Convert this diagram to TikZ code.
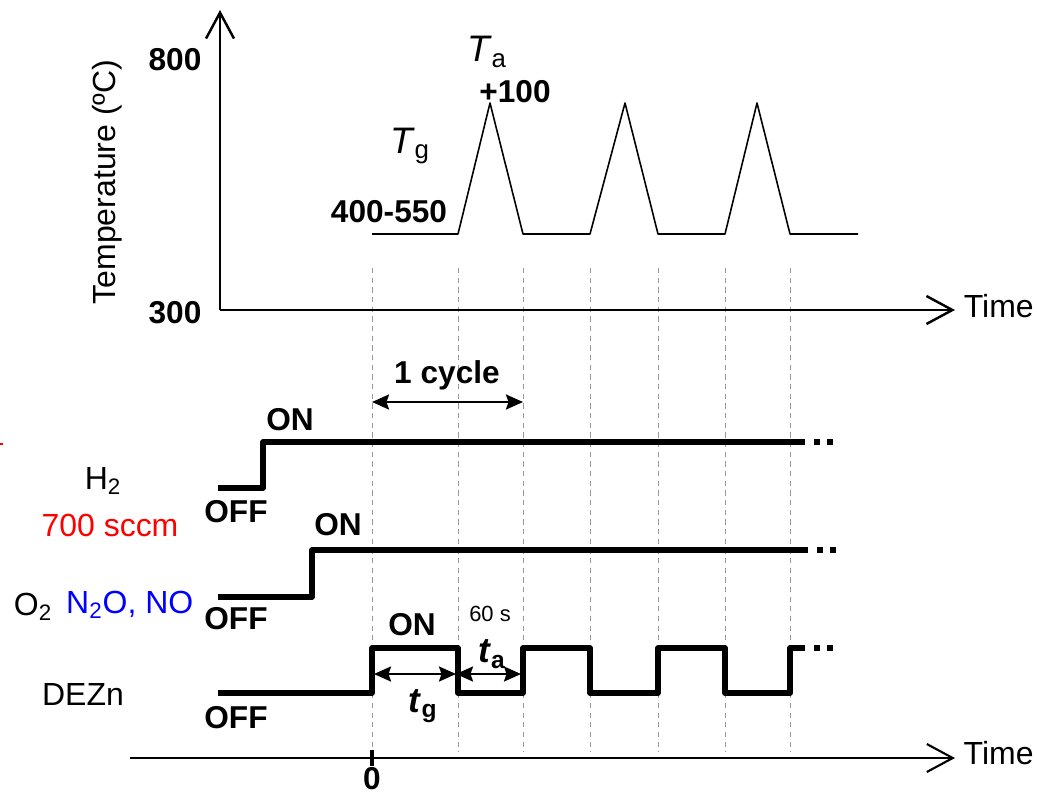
\documentclass[tikz,border=0pt]{standalone}
\usepackage{fontspec}
\setmainfont{Liberation Sans}
\usetikzlibrary{arrows.meta}

\tikzset{
    axis/.style={line width=1.4pt, -{Straight Barb[length=0.52cm,width=0.56cm]}},
    profile/.style={line width=0.9pt, line join=round},
    signal/.style={line width=3.3pt, line join=round},
    guide/.style={gray!80, line width=0.5pt, dash pattern=on 3pt off 2.5pt},
    span/.style={line width=1.3pt, {Stealth[length=0.34cm,width=0.3cm,inset=0.05cm]}-{Stealth[length=0.34cm,width=0.3cm,inset=0.05cm]}},
    boldlbl/.style={font=\bfseries\fontsize{18}{20}\selectfont},
    plainlbl/.style={font=\fontsize{18.2}{20}\selectfont},
}

\begin{document}
\begin{tikzpicture}[x=0.02cm, y=-0.02cm]
    \useasboundingbox (0,0) rectangle (1037,795);

    % guide lines
    \foreach \gx in {372,458,523,590,658,725,790} {
        \draw[guide] (\gx,268) -- (\gx,752);
    }

    % temperature axes
    \coordinate (origin) at (220,310);
    \draw[axis] (origin) -- (220,10);
    \draw[axis] (origin) -- (955,310) node[right, plainlbl, xshift=1pt, yshift=2pt] (timeup) {Time};
    \node[boldlbl] (t800) at (175,60) {800};
    \node[boldlbl] (t300) at (175,313) {300};
    \node[plainlbl, rotate=90] (ylabel) at (107,182) {Temperature (ºC)};

    % temperature profile
    \draw[profile] (372,234) -- (458,234) -- (490,103) -- (523,234) -- (590,234)
        -- (625,103) -- (658,234) -- (725,234) -- (757,103) -- (790,234) -- (858,234);
    \node[font=\fontsize{21}{24}\selectfont] (tg) at (410,146) {\textit{T}\textsubscript{g}};
    \node[boldlbl] (tgval) at (389,212) {400-550};
    \node[font=\fontsize{21}{24}\selectfont] (ta) at (487,52) {\textit{T}\textsubscript{a}};
    \node[boldlbl] (taval) at (515,92) {+100};

    % one cycle
    \coordinate (cyc0) at (372,402);
    \coordinate (cyc1) at (523,402);
    \draw[span] (cyc0) -- (cyc1);
    \node[boldlbl] (cycle) at (447,375) {1 cycle};

    % H2
    \draw[signal] (218,488) -- (263,488) -- (263,442) -- (805,442);
    \node[boldlbl] (h2on) at (290,420) {ON};
    \node[boldlbl] (h2off) at (236,512) {OFF};
    \node[plainlbl] (h2) at (103,481) {H\textsubscript{2}};
    \node[plainlbl, red] (flow) at (110,525) {700 sccm};
    \draw[red, line width=1.2pt] (0,444) -- (3,444);

    % O2
    \draw[signal] (218,597) -- (312,597) -- (312,550) -- (808,550);
    \node[plainlbl] (o2) at (33,607) {O\textsubscript{2}};
    \node[boldlbl] (o2on) at (338,525) {ON};
    \node[boldlbl] (o2off) at (236,619) {OFF};
    \node[plainlbl, blue, right] (nox) at (60,605) {N\textsubscript{2}O, NO};

    % DEZn
    \draw[signal] (218,693) -- (372,693) -- (372,648) -- (458,648) -- (458,693)
        -- (523,693) -- (523,648) -- (590,648) -- (590,693) -- (658,693)
        -- (658,648) -- (725,648) -- (725,693) -- (790,693) -- (790,648) -- (805,648);
    \node[boldlbl] (dzon) at (412,625) {ON};
    \node[boldlbl] (dzoff) at (236,718) {OFF};
    \node[plainlbl] (dezn) at (83,694) {DEZn};

    % continuation dots
    \foreach \sy/\sx in {442/817, 442/830, 550/820, 550/833, 648/817, 648/830} {
        \fill (\sx-2.7,\sy-2.7) rectangle ++(5.4,5.4);
    }

    % growth and anneal times
    \coordinate (g0) at (374,674);
    \coordinate (g1) at (456,674);
    \coordinate (a1) at (521,674);
    \draw[span] (g0) -- (g1);
    \draw[span] (g1) -- (a1);
    \node[font=\bfseries\fontsize{20}{22}\selectfont] (tglab) at (423,706) {\textit{t}\textsubscript{g}};
    \node[font=\bfseries\fontsize{20}{22}\selectfont] (talab) at (492,654) {\textit{t}\textsubscript{a}};
    \node[font=\fontsize{12.5}{14}\selectfont] (sixty) at (490,614) {60 s};

    % bottom time axis
    \draw[line width=1.2pt, -{Straight Barb[length=0.52cm,width=0.56cm]}] (130,758) -- (955,758)
        node[right, plainlbl, xshift=1pt, yshift=3pt] (timelow) {Time};
    \draw[line width=1.8pt] (372,750) -- (372,766);
    \node[boldlbl] (zero) at (372,779) {0};
\end{tikzpicture}
\end{document}
